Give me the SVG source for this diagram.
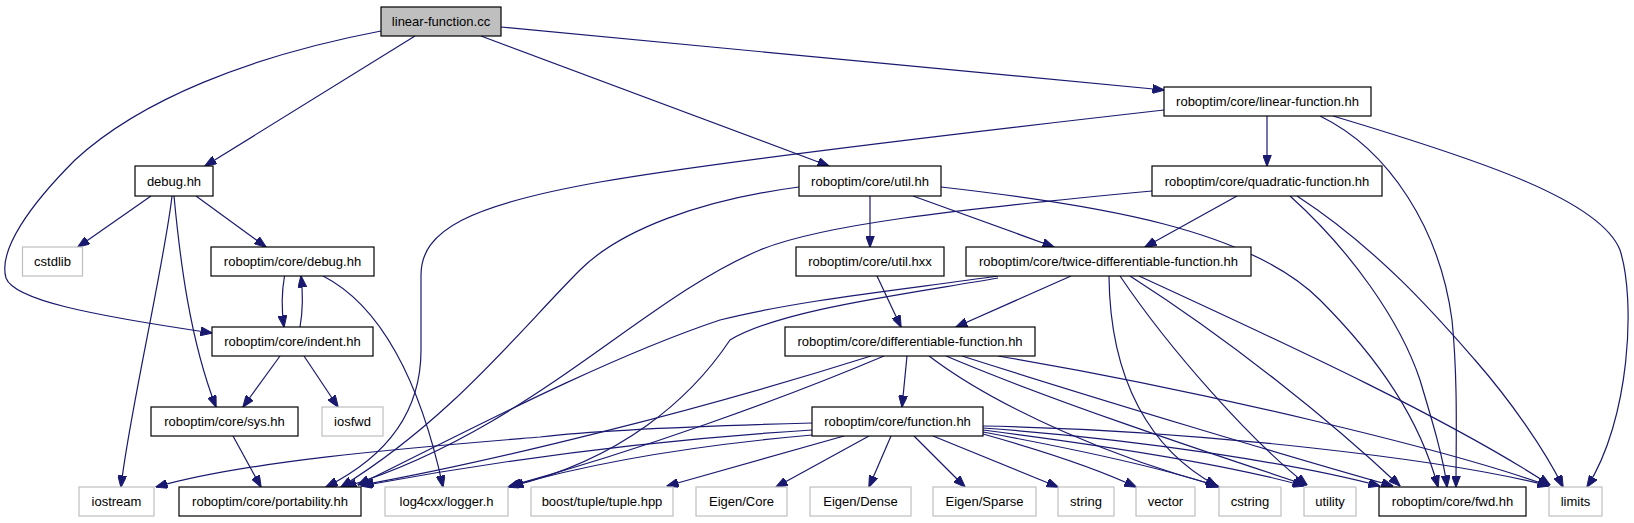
<svg xmlns="http://www.w3.org/2000/svg" width="1634" height="523" viewBox="0 0 1634 523">
<style>
.n rect{fill:#fff;stroke:#000;stroke-width:1.2}
.g rect{fill:#fff;stroke:#bfbfbf;stroke-width:1.2}
.m rect{fill:#bfbfbf;stroke:#000;stroke-width:1.2}
text{font-family:"Liberation Sans",Arial,sans-serif;font-size:13px;fill:#000;text-anchor:middle}
#edges path{fill:none;stroke:#191970;stroke-width:1.2;marker-end:url(#arr)}
</style>
<defs>
<marker id="arr" markerWidth="12" markerHeight="9" refX="11.5" refY="4.5" orient="auto" markerUnits="userSpaceOnUse">
<path d="M0,0 L12,4.5 L0,9 z" fill="#191970" stroke="#191970" stroke-width="1"/>
</marker>
</defs>
<rect width="1634" height="523" fill="#fff"/>
<g id="edges">
<path d="M415,36 L205,166"/>
<path d="M381,31 C250,56 140,100 75,160 C30,205 -2,250 6,278 C14,300 90,315 212,333"/>
<path d="M481,36 L829,166"/>
<path d="M501,27 L1164,90"/>
<path d="M151,196 L78,247"/>
<path d="M196,196 L266,247"/>
<path d="M172,196 C165,260 128,420 121,487"/>
<path d="M174,196 C180,260 190,340 216,407"/>
<path d="M284.5,276 C281.5,293 281.5,310 284,327"/>
<path d="M323,276 C380,305 420,380 443,487"/>
<path d="M300,327 C303,310 303,293 301,276"/>
<path d="M280,356 L243,407"/>
<path d="M304,356 L338,407"/>
<path d="M233,436 L261,487"/>
<path d="M1164,110 C900,140 680,168 600,182 C470,205 421,230 421,275 L421,350 C421,410 390,455 326,487"/>
<path d="M1267,116 L1267,166"/>
<path d="M1320,116 C1390,150 1440,230 1452,320 C1458,380 1456,440 1456,487"/>
<path d="M1333,116 C1480,160 1600,200 1620,250 C1636,300 1630,420 1587,487"/>
<path d="M799,187 C700,200 620,230 580,270 C520,330 450,420 341,487"/>
<path d="M870,196 L870,247"/>
<path d="M913,196 L1054,247"/>
<path d="M941,187 C1100,205 1250,230 1320,300 C1380,360 1420,420 1438,487"/>
<path d="M1237,196 L1145,247"/>
<path d="M1152,191 C950,210 820,225 760,250 C640,300 530,430 345,487"/>
<path d="M1290,196 C1350,250 1400,320 1420,380 C1432,420 1444,460 1447,487"/>
<path d="M1297,196 C1380,250 1440,320 1475,360 C1510,400 1545,450 1563,487"/>
<path d="M877,276 L901,327"/>
<path d="M1071,276 L956,327"/>
<path d="M998,276 C900,290 800,300 720,320 C600,360 450,440 358,485"/>
<path d="M998,278 C900,295 780,310 730,340 C690,400 620,460 512,486"/>
<path d="M1109,276 C1110,380 1150,450 1217,486"/>
<path d="M1120,276 C1170,350 1250,440 1307,485"/>
<path d="M1130,276 C1230,340 1330,420 1400,486"/>
<path d="M1139,276 C1300,350 1450,420 1550,485"/>
<path d="M907,356 L902,407"/>
<path d="M871,356 C700,410 500,460 362,485"/>
<path d="M884,356 C780,400 640,450 510,486"/>
<path d="M929,356 C1000,410 1120,460 1218,486"/>
<path d="M946,356 C1050,400 1200,450 1306,485"/>
<path d="M962,356 C1100,400 1300,460 1393,486"/>
<path d="M998,356 C1200,390 1450,450 1549,486"/>
<path d="M812,423 C700,426 600,430 540,437 C420,447 250,460 156,487"/>
<path d="M812,430 C650,440 500,460 361,486"/>
<path d="M812,435 C700,445 600,460 508,487"/>
<path d="M844,436 L667,486"/>
<path d="M869,436 L776,487"/>
<path d="M891,436 L869,487"/>
<path d="M914,436 L965,487"/>
<path d="M933,436 L1058,487"/>
<path d="M983,434 C1040,450 1100,470 1136,487"/>
<path d="M983,432 C1080,450 1170,470 1219,487"/>
<path d="M983,430 C1100,445 1230,465 1304,486"/>
<path d="M983,428 C1150,440 1300,465 1380,486"/>
<path d="M983,426 C1200,430 1450,460 1549,486"/>
</g>
<g id="lfcc" class="m"><rect x="381" y="7" width="120" height="29"/><text x="441" y="26">linear-function.cc</text></g>
<g id="lfhh" class="n"><rect x="1164" y="87" width="207" height="29"/><text x="1267.5" y="106">roboptim/core/linear-function.hh</text></g>
<g id="debug" class="n"><rect x="135" y="166" width="78" height="30"/><text x="174" y="186">debug.hh</text></g>
<g id="util" class="n"><rect x="799" y="166" width="142" height="30"/><text x="870" y="186">roboptim/core/util.hh</text></g>
<g id="quad" class="n"><rect x="1152" y="166" width="230" height="30"/><text x="1267" y="186">roboptim/core/quadratic-function.hh</text></g>
<g id="cstdlib" class="g"><rect x="22.5" y="247" width="60" height="29"/><text x="52.5" y="266">cstdlib</text></g>
<g id="rdebug" class="n"><rect x="211" y="247" width="163" height="29"/><text x="292.5" y="266">roboptim/core/debug.hh</text></g>
<g id="utilhxx" class="n"><rect x="796" y="247" width="148" height="29"/><text x="870" y="266">roboptim/core/util.hxx</text></g>
<g id="twice" class="n"><rect x="966" y="247" width="285" height="29"/><text x="1108.5" y="266">roboptim/core/twice-differentiable-function.hh</text></g>
<g id="indent" class="n"><rect x="212" y="327" width="161" height="29"/><text x="292.5" y="346">roboptim/core/indent.hh</text></g>
<g id="diff" class="n"><rect x="785" y="327" width="250" height="29"/><text x="910" y="346">roboptim/core/differentiable-function.hh</text></g>
<g id="sys" class="n"><rect x="151" y="407" width="147" height="29"/><text x="224.5" y="426">roboptim/core/sys.hh</text></g>
<g id="iosfwd" class="g"><rect x="322" y="407" width="61" height="29"/><text x="352.5" y="426">iosfwd</text></g>
<g id="function" class="n"><rect x="812" y="407" width="171" height="29"/><text x="897.5" y="426">roboptim/core/function.hh</text></g>
<g id="iostream" class="g"><rect x="79" y="487" width="75" height="29"/><text x="116.5" y="506">iostream</text></g>
<g id="port" class="n"><rect x="179" y="487" width="182" height="29"/><text x="270" y="506">roboptim/core/portability.hh</text></g>
<g id="log4cxx" class="g"><rect x="385" y="487" width="123" height="29"/><text x="446.5" y="506">log4cxx/logger.h</text></g>
<g id="boost" class="g"><rect x="531" y="487" width="142" height="29"/><text x="602" y="506">boost/tuple/tuple.hpp</text></g>
<g id="ecore" class="g"><rect x="696" y="487" width="91" height="29"/><text x="741.5" y="506">Eigen/Core</text></g>
<g id="edense" class="g"><rect x="810" y="487" width="101" height="29"/><text x="860.5" y="506">Eigen/Dense</text></g>
<g id="esparse" class="g"><rect x="933" y="487" width="103" height="29"/><text x="984.5" y="506">Eigen/Sparse</text></g>
<g id="string" class="g"><rect x="1058" y="487" width="56" height="29"/><text x="1086" y="506">string</text></g>
<g id="vector" class="g"><rect x="1136" y="487" width="59" height="29"/><text x="1165.5" y="506">vector</text></g>
<g id="cstring" class="g"><rect x="1219" y="487" width="62" height="29"/><text x="1250" y="506">cstring</text></g>
<g id="utility" class="g"><rect x="1304" y="487" width="52" height="29"/><text x="1330" y="506">utility</text></g>
<g id="fwd" class="n"><rect x="1379" y="487" width="147" height="29"/><text x="1452.5" y="506">roboptim/core/fwd.hh</text></g>
<g id="limits" class="g"><rect x="1549" y="487" width="53" height="29"/><text x="1575.5" y="506">limits</text></g>
</svg>
